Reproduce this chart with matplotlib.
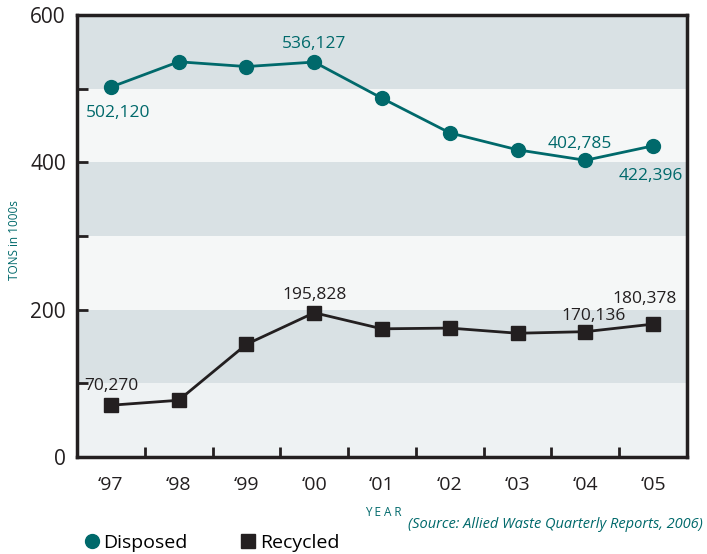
import matplotlib
matplotlib.use("Agg")
import matplotlib.pyplot as plt
from matplotlib.lines import Line2D

years = ["\u201897", "\u201898", "\u201899", "\u201800", "\u201801", "\u201802", "\u201803", "\u201804", "\u201805"]
disposed = [502.120, 536.5, 530, 536.127, 487, 440, 417, 402.785, 422.396]
recycled = [70.270, 77, 153, 195.828, 174, 175, 168, 170.136, 180.378]

# labelled points: (index, text, dx, dy) offsets in points
disposed_labels = [(0, "502,120", 5, -19), (3, "536,127", 0, 13), (7, "402,785", -4, 12), (8, "422,396", -2, -22)]
recycled_labels = [(0, "70,270", 0, 14), (3, "195,828", 0, 13), (7, "170,136", 6, 11), (8, "180,378", -6, 18)]

teal = "#00696b"
dark = "#231f20"
font = ["Liberation Sans Narrow", "Open Sans", "DejaVu Sans"]
plt.rcParams["font.family"] = font

fig = plt.figure(figsize=(7.07, 5.54), dpi=100)
ax = fig.add_axes([77 / 707, 1 - 457 / 554, 610 / 707, 442 / 554])

# alternating bands
band_cols = ["#eef2f3", "#d9e1e4", "#f5f7f7", "#d9e1e4", "#f5f7f7", "#d9e1e4"]
for i, c in enumerate(band_cols):
    ax.axhspan(i * 100, (i + 1) * 100, color=c, zorder=0, lw=0)

x = range(len(years))
ax.plot(x, disposed, color=teal, lw=2, marker="o", ms=10, zorder=3)
ax.plot(x, recycled, color=dark, lw=2, marker="s", ms=10, zorder=3)

for i, t, dx, dy in disposed_labels:
    ax.annotate(t, (i, disposed[i]), xytext=(dx, dy), textcoords="offset points",
                ha="center", va="center", color=teal, fontsize=12.5)
for i, t, dx, dy in recycled_labels:
    ax.annotate(t, (i, recycled[i]), xytext=(dx, dy), textcoords="offset points",
                ha="center", va="center", color=dark, fontsize=12.5)

ax.set_xlim(-0.5, len(years) - 0.5)
ax.set_ylim(0, 600)
ax.set_xticks(list(x))
ax.set_xticklabels(years, fontsize=14, color=dark)
ax.set_xticks([i + 0.5 for i in range(len(years) - 1)], minor=True)
ax.tick_params(axis="x", which="major", length=0, pad=14)
ax.tick_params(axis="x", which="minor", direction="in", length=7, width=2, color=dark)
ax.set_yticks([0, 200, 400, 600])
ax.set_yticklabels(["0", "200", "400", "600"], fontsize=15, color=dark)
ax.set_yticks([100, 300, 500], minor=True)
ax.tick_params(axis="y", which="both", direction="in", length=8, width=2, color=dark, pad=8)
for s in ax.spines.values():
    s.set_linewidth(2.5)
    s.set_color(dark)

fig.text(15 / 707, 1 - 240 / 554, "TONS in 1000s", rotation=90, ha="center", va="center",
         color=teal, fontsize=8.5)
fig.text(383 / 707, 1 - 512 / 554, "Y E A R", ha="center", va="center", color=teal, fontsize=8.5)
fig.text(703 / 707, 1 - 525 / 554, "(Source: Allied Waste Quarterly Reports, 2006)", ha="right",
         va="center", color=teal, fontsize=10.5, style="italic")

handles = [Line2D([], [], ls="none", marker="o", ms=10, color=teal, label="Disposed"),
           Line2D([], [], ls="none", marker="s", ms=10, color=dark, label="Recycled")]
fig.legend(handles=handles, loc="center left", bbox_to_anchor=(82 / 707, 1 - 543 / 554), ncol=2,
           frameon=False, fontsize=14, handletextpad=0.1, columnspacing=2.6, handlelength=1,
           borderaxespad=0, borderpad=0)

fig.savefig("out.png", dpi=100, facecolor="white")
